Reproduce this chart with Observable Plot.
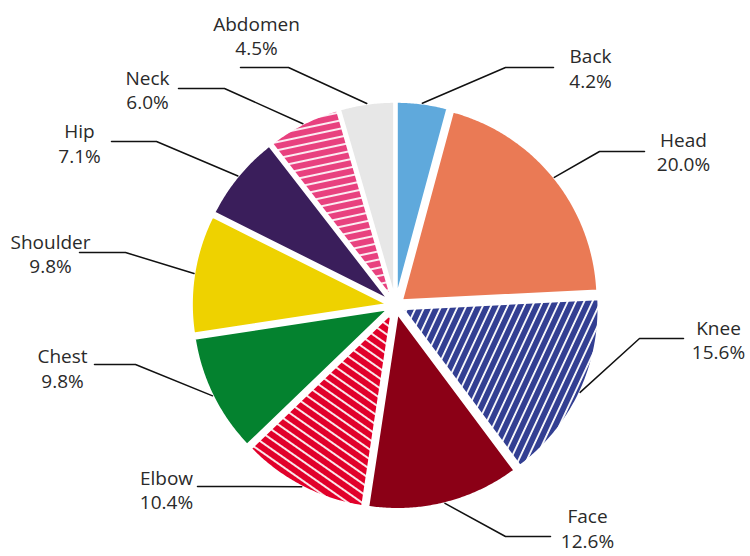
<!DOCTYPE html>
<html><head><meta charset="utf-8">
<script src="https://cdn.jsdelivr.net/npm/d3@7"></script>
<script src="https://cdn.jsdelivr.net/npm/@observablehq/plot@0.6"></script>
<style>body{margin:0;background:#fff}</style>
</head><body><div id="chart"></div>
<script>
// ---- data ----
const parts  = ["Back","Head","Knee","Face","Elbow","Chest","Shoulder","Hip","Neck","Abdomen"];
const shares = [4.2, 20.0, 15.6, 12.6, 10.4, 9.8, 9.8, 7.1, 6.0, 4.5];
const fills  = ["#5fa9dc","#ea7a55","url(#hatch-knee)","#8b0016","url(#hatch-elbow)","#04822f","#eed200","#3a1e5b","url(#hatch-neck)","#e7e7e7"];

// ---- annotation layout (pie units: radius ~1, origin = pie centre, y up) ----
const elbowPts = [[0.55,1.19],[1.02,0.77],[1.22,-0.165],[0.55,-1.155],[-0.75,-0.905],[-1.30,-0.295],[-1.35,0.265],[-1.195,0.82],[-0.855,1.085],[-0.535,1.19]];
const lineEndX = [0.79,1.245,1.44,0.775,-0.99,-1.505,-1.58,-1.42,-1.085,-0.775];
const textPts  = [[0.975,1.19],[1.44,0.7725],[1.615,-0.1675],[0.96,-1.112],[-1.145,-0.9175],[-1.665,-0.31],[-1.725,0.2625],[-1.58,0.815],[-1.24,1.0825],[-0.695,1.3525]];

const R = 0.98, EXPLODE = 0.04;
const total = d3.sum(shares);
let acc = 0;
const slices = parts.map((p, i) => {
  const a0 = acc / total * 2 * Math.PI; acc += shares[i];
  const a1 = acc / total * 2 * Math.PI;
  return {part: p, share: shares[i], a0, a1, mid: (a0 + a1) / 2, fill: fills[i], i};
});
const pts = [];
for (const s of slices) {
  const ox = EXPLODE * Math.sin(s.mid), oy = EXPLODE * Math.cos(s.mid);
  pts.push({part: s.part, fill: s.fill, x: ox, y: oy});
  const n = Math.max(2, Math.ceil((s.a1 - s.a0) / (Math.PI / 360)));
  for (let k = 0; k <= n; k++) {
    const a = s.a0 + (s.a1 - s.a0) * k / n;
    pts.push({part: s.part, fill: s.fill, x: ox + R * Math.sin(a), y: oy + R * Math.cos(a)});
  }
  pts.push({part: s.part, fill: s.fill, x: ox, y: oy});
}
const leaders = [];
const labels = [];
for (const s of slices) {
  const r0 = 1.02;
  leaders.push({part: s.part, x: r0 * Math.sin(s.mid), y: r0 * Math.cos(s.mid)});
  leaders.push({part: s.part, x: elbowPts[s.i][0], y: elbowPts[s.i][1]});
  leaders.push({part: s.part, x: lineEndX[s.i], y: elbowPts[s.i][1]});
  labels.push({x: textPts[s.i][0], y: textPts[s.i][1], text: s.part + "\n" + s.share.toFixed(1) + "%"});
}

const chart = Plot.plot({
  width: 750, height: 556,
  marginTop: 0, marginRight: 0, marginBottom: 0, marginLeft: 0,
  x: {domain: [-395/200, 355/200], axis: null},
  y: {domain: [-(556-305)/200, 305/200], axis: null},
  color: {type: "identity"},
  style: {fontFamily: "'Open Sans', sans-serif", background: "#fff"},
  marks: [
    Plot.line(pts, {x: "x", y: "y", z: "part", fill: "fill", stroke: "white", strokeWidth: 2.5, strokeLinejoin: "round", curve: "linear"}),
    Plot.line(leaders, {x: "x", y: "y", z: "part", stroke: "#111", strokeWidth: 1.5, curve: "linear"}),
    Plot.text(labels, {x: "x", y: "y", text: "text", fontSize: 19, lineHeight: 1.3, fill: "#2a2a2a"})
  ]
});

// hatch patterns
const defs = d3.create("svg:defs");
function hatch(id, color, angle, size, vertical, w) {
  const p = defs.append("pattern").attr("id", id).attr("patternUnits", "userSpaceOnUse")
    .attr("width", size).attr("height", size).attr("patternTransform", `rotate(${angle})`);
  p.append("rect").attr("width", size).attr("height", size).attr("fill", color);
  if (vertical) p.append("line").attr("x1", size/2).attr("x2", size/2).attr("y1", -1).attr("y2", size + 1).attr("stroke", "white").attr("stroke-width", w);
  else p.append("line").attr("y1", size/2).attr("y2", size/2).attr("x1", -1).attr("x2", size + 1).attr("stroke", "white").attr("stroke-width", w);
}
hatch("hatch-knee", "#333f92", 25, 7.5, true, 1.8);
hatch("hatch-elbow", "#e1002a", 35, 8, false, 1.8);
hatch("hatch-neck", "#e8417f", -12, 8, false, 1.8);
chart.insertBefore(defs.node(), chart.firstChild);
document.getElementById("chart").appendChild(chart);
</script>
</body></html>
